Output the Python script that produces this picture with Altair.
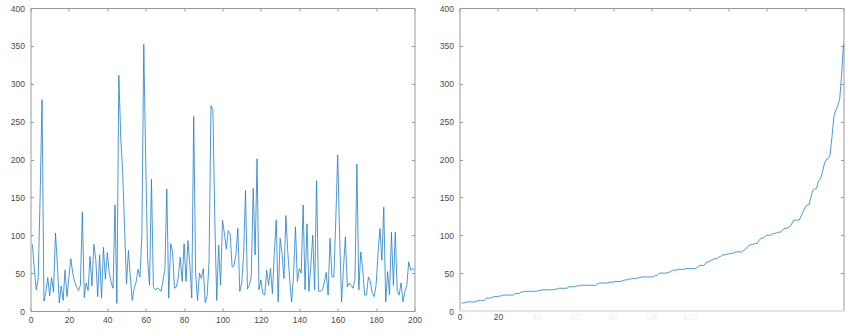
import altair as alt
import pandas as pd

# Values (x = 1..200)
values = [
    88, 55, 28, 42, 150, 279, 13, 25, 44, 20,
    44, 25, 103, 62, 11, 33, 14, 54, 19, 45,
    69, 50, 38, 32, 27, 34, 131, 18, 37, 27,
    72, 33, 88, 68, 19, 74, 17, 84, 42, 77,
    50, 38, 30, 140, 10, 311, 230, 183, 110, 36,
    80, 45, 14, 30, 38, 55, 45, 100, 352, 200,
    69, 34, 174, 32, 28, 30, 29, 26, 40, 55,
    161, 17, 89, 78, 30, 32, 45, 71, 39, 89,
    39, 93, 60, 17, 257, 50, 14, 50, 43, 56,
    11, 20, 65, 271, 265, 120, 14, 87, 34, 120,
    102, 82, 106, 102, 58, 60, 75, 109, 26, 37,
    75, 159, 29, 34, 47, 162, 74, 201, 28, 41,
    23, 21, 54, 34, 56, 23, 78, 120, 12, 96,
    76, 43, 126, 78, 41, 12, 47, 111, 39, 56,
    50, 140, 28, 115, 26, 60, 100, 28, 172, 26,
    26, 28, 37, 51, 21, 96, 45, 45, 120, 206,
    100, 12, 56, 98, 32, 37, 34, 30, 43, 194,
    28, 78, 56, 21, 21, 45, 39, 23, 19, 34,
    76, 109, 67, 137, 12, 52, 21, 104, 34, 104,
    26, 21, 37, 12, 26, 34, 65, 54, 56, 55,
]
index = list(range(1, len(values) + 1))
x_ticks = [0, 20, 40, 60, 80, 100, 120, 140, 160, 180, 200]
y_ticks = [0, 50, 100, 150, 200, 250, 300, 350, 400]

raw = pd.DataFrame({"x": index, "v": values})
srt = pd.DataFrame({"x": index, "v": sorted(values)})

LINE = "#1f7fc6"
FRAME = "#9a9a9a"
TXT = "#4a4a4a"
FONT = "Liberation Sans"


def panel(df, w, h, right=False):
    base = alt.Chart(df)
    xs = alt.Scale(domain=[0, 200], nice=False, zero=False)
    ys = alt.Scale(domain=[0, 400], nice=False)
    if right:
        xlab = dict(
            labelExpr="datum.value <= 120 ? datum.label : ''",
            labelColor=alt.condition("datum.value <= 20", alt.value(TXT), alt.value("#f0f0f0")),
            ticks=False,
        )
    else:
        xlab = dict(labelColor=TXT)
    line = base.mark_line(color=LINE, strokeWidth=0.8).encode(
        x=alt.X("x:Q", scale=xs, axis=alt.Axis(
            values=x_ticks, orient="bottom", offset=-3, tickSize=3, domain=False,
            grid=False, title=None, labelPadding=4, labelFlush=False,
            labelOverlap=False, tickColor=FRAME, labelFont=FONT, labelFontSize=8.5,
            **xlab)),
        y=alt.Y("v:Q", scale=ys, axis=alt.Axis(
            values=y_ticks, orient="left", offset=-3, tickSize=3, domain=False,
            grid=False, title=None, labelPadding=6, labelColor=TXT,
            tickColor=FRAME, labelFont=FONT, labelFontSize=8.5, labelOverlap=False)),
    )
    ghost = base.mark_line(opacity=0).encode(
        x=alt.X("x:Q", scale=xs, axis=alt.Axis(
            values=x_ticks, orient="top", offset=-3, tickSize=3, domain=False,
            grid=False, title=None, labels=False, tickColor=FRAME)),
        y=alt.Y("v:Q", scale=ys, axis=alt.Axis(
            values=y_ticks, orient="right", offset=-3, tickSize=3, domain=False,
            grid=False, title=None, labels=False, tickColor=FRAME)),
    )
    layers = [line, ghost]
    if right:
        faint = alt.Chart(df).mark_rule(color="#e4e4e4", strokeWidth=1.5).encode(
            x=alt.X(datum=0, scale=xs, axis=None),
            x2=alt.X2(datum=200),
            y=alt.Y(datum=0, scale=ys, axis=None),
        )
        layers.insert(0, faint)
    ch = alt.layer(*layers).resolve_axis(x="independent", y="independent").properties(
        width=w, height=h)
    if right:
        ch = ch.properties(title=alt.TitleParams(" ", fontSize=1, offset=1.6))
    return ch


left = panel(raw, 384, 303)
rightp = panel(srt, 384, 303, right=True)

chart = alt.hconcat(left, rightp, spacing=16).properties(
    padding={"left": 9.5, "top": 0, "right": 0, "bottom": 0},
    background="white",
).configure_view(stroke=FRAME, strokeWidth=1)

chart.save("out.html", embed_options={"renderer": "svg", "actions": False})
